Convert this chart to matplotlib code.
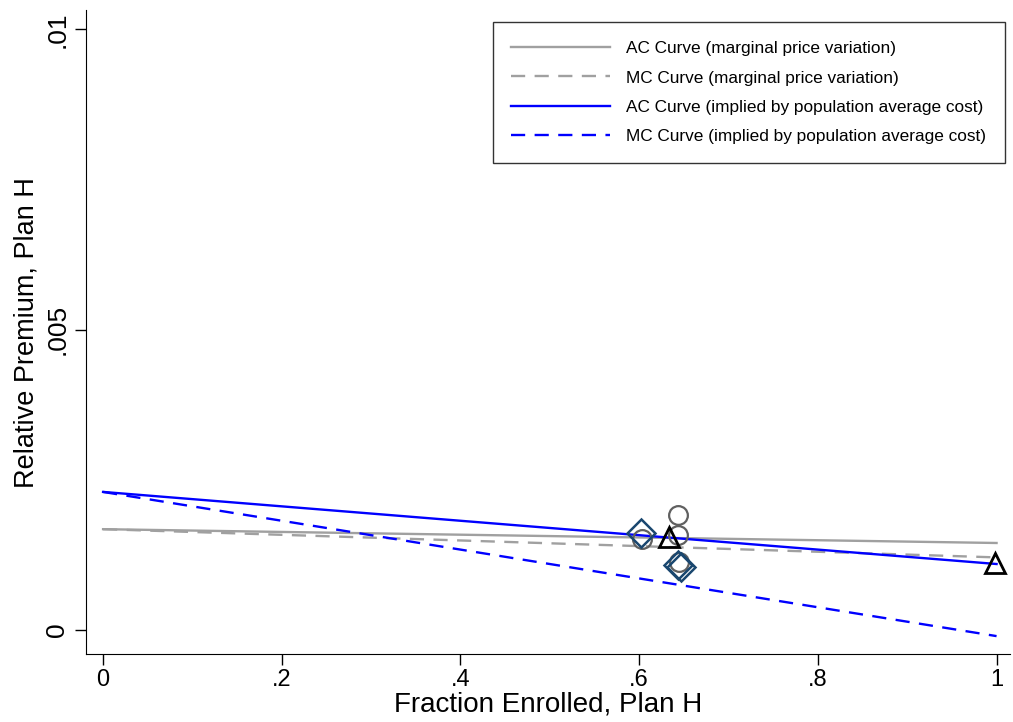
import numpy as np
import matplotlib
matplotlib.use("Agg")
import matplotlib.pyplot as plt

plt.rcParams['font.family'] = ['Liberation Sans', 'DejaVu Sans']

# curve endpoints (fraction enrolled 0 -> 1)
x_line = [0.0, 1.0]
ac_marginal = [0.00168, 0.00145]
mc_marginal = [0.00168, 0.00121]
ac_popavg = [0.00230, 0.00110]
mc_popavg = [0.00230, -0.00010]

# observed points
circ_x = [0.603, 0.643, 0.643, 0.645]
circ_y = [0.00151, 0.00191, 0.00159, 0.00114]
diam_x = [0.6026, 0.6436, 0.647]
diam_y = [0.00161, 0.00108, 0.00105]
tri_x = [0.633, 0.998]
tri_y = [0.00155, 0.00112]

fig = plt.figure(figsize=(10.13, 7.22), dpi=100)
ax = fig.add_axes([0.085, 0.094, 0.912, 0.892])

dash = (0, (6, 4))
ax.plot(x_line, ac_marginal, color='#a0a0a0', lw=1.7, label='AC Curve (marginal price variation)')
ax.plot(x_line, mc_marginal, color='#a0a0a0', lw=1.7, ls=dash, label='MC Curve (marginal price variation)')
ax.plot(x_line, ac_popavg, color='#0000ff', lw=1.7, label='AC Curve (implied by population average cost)')
ax.plot(x_line, mc_popavg, color='#0000ff', lw=1.7, ls=dash, label='MC Curve (implied by population average cost)')

ax.plot(circ_x, circ_y, 'o', ms=13.5, mfc='none', mec='#606060', mew=1.6)
ax.plot(diam_x, diam_y, 'D', ms=14, mfc='none', mec='#1a476f', mew=1.8)
ax.plot(tri_x, tri_y, '^', ms=15, mfc='none', mec='black', mew=2.0)

ax.set_xlim(-0.019, 1.015)
ax.set_ylim(-0.0004, 0.01032)
ax.set_xticks([0, 0.2, 0.4, 0.6, 0.8, 1.0])
ax.set_xticklabels(['0', '.2', '.4', '.6', '.8', '1'])
ax.set_yticks([0, 0.005, 0.01])
ax.set_yticklabels(['0', '.005', '.01'], rotation=90, va='center')
ax.tick_params(axis='x', labelsize=17, length=8, width=1, direction='out', pad=3)
ax.tick_params(axis='y', labelsize=19, length=8, width=1, direction='out', pad=4)
ax.set_xlabel('Fraction Enrolled, Plan H', fontsize=20, labelpad=0)
ax.set_ylabel('Relative Premium, Plan H', fontsize=19.5, labelpad=4)

for s in ['top', 'right']:
    ax.spines[s].set_visible(False)

leg = ax.legend(loc='upper right', bbox_to_anchor=(0.9946, 0.981), fontsize=12.4,
                frameon=True, fancybox=False, edgecolor='black', handlelength=5.7,
                handletextpad=0.95, labelspacing=0.82, borderpad=1.1, borderaxespad=0)
leg.get_frame().set_linewidth(1.0)

fig.savefig('out.png', dpi=100)
